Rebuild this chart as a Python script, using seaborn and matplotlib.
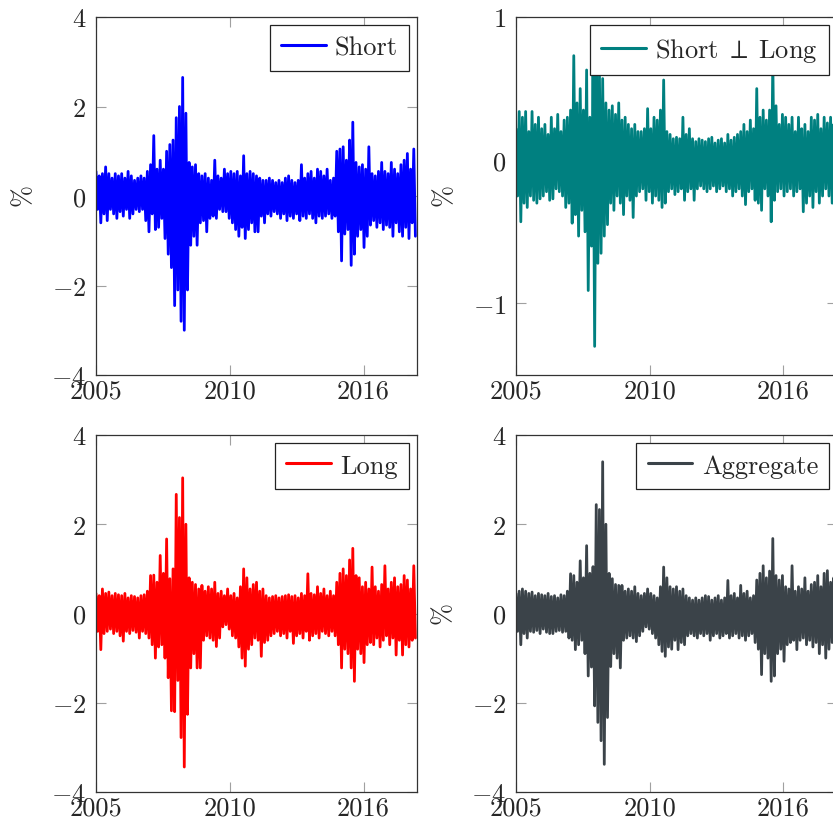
import numpy as np
import pandas as pd
import matplotlib
matplotlib.use("Agg")
import matplotlib.pyplot as plt
import seaborn as sns

# ---------------- data (alternating daily extremes) -------------
x_max = 12.0                      # axis span in years from 2005
tick_pos = [0, 5, 10]
tick_labels = ["2005", "2010", "2016"]

short_hi = [0.55,0.45,0.5,0.65,0.5,0.4,0.5,0.45,0.5,0.4,0.55,0.45,0.35,0.4,0.45,0.4,
            0.55,0.7,1.35,0.6,0.8,0.6,1.0,1.15,1.25,1.75,2.0,2.65,1.85,0.75,0.65,0.7,
            0.5,0.45,0.5,0.4,0.35,0.8,0.45,0.4,0.6,0.5,0.55,0.5,0.55,0.45,0.9,0.5,
            0.55,0.5,0.45,0.4,0.35,0.35,0.4,0.35,0.3,0.35,0.3,0.4,0.45,0.35,0.3,0.35,
            0.7,0.4,0.5,0.55,0.4,0.6,0.55,0.45,0.6,0.35,0.4,1.0,1.05,1.1,0.8,1.25,
            1.65,0.75,0.65,0.7,0.6,1.1,0.5,0.45,0.55,0.75,0.55,0.5,0.75,0.6,0.5,0.7,
            0.8,0.95,0.6,1.05]
short_lo = [-0.3,-0.6,-0.4,-0.55,-0.3,-0.4,-0.5,-0.35,-0.45,-0.3,-0.5,-0.4,-0.3,-0.35,-0.3,-0.55,
            -0.8,-0.4,-0.75,-0.7,-0.5,-0.95,-1.3,-1.6,-2.45,-2.1,-2.8,-3.0,-2.1,-1.1,-0.9,-1.1,
            -0.6,-0.55,-0.8,-0.5,-0.45,-0.5,-0.3,-0.35,-0.35,-0.5,-0.6,-0.75,-0.9,-0.7,-0.95,-0.75,
            -0.6,-0.8,-0.8,-0.45,-0.6,-0.4,-0.45,-0.35,-0.4,-0.5,-0.4,-0.55,-0.45,-0.5,-0.4,-0.55,
            -0.45,-0.5,-0.4,-0.5,-0.6,-0.45,-0.5,-0.45,-0.4,-0.5,-0.45,-0.8,-1.45,-0.85,-0.75,-1.55,
            -1.3,-0.9,-0.75,-1.15,-0.9,-0.65,-0.55,-0.7,-0.6,-0.75,-0.65,-0.7,-0.9,-0.6,-0.8,-0.9,
            -0.7,-0.95,-0.6,-0.9]

orth_hi = [0.22,0.34,0.3,0.34,0.2,0.34,0.25,0.3,0.22,0.25,0.18,0.3,0.22,0.32,0.2,0.28,
           0.3,0.35,0.73,0.4,0.5,0.35,0.63,0.3,0.62,0.64,0.6,0.57,0.4,0.35,0.38,0.32,
           0.4,0.28,0.3,0.25,0.22,0.25,0.2,0.2,0.22,0.36,0.22,0.3,0.28,0.35,0.56,0.2,
           0.18,0.15,0.16,0.15,0.3,0.18,0.22,0.15,0.13,0.15,0.14,0.13,0.15,0.16,0.12,0.14,
           0.15,0.12,0.18,0.14,0.16,0.18,0.2,0.25,0.2,0.28,0.22,0.5,0.3,0.35,0.28,0.35,
           0.7,0.38,0.25,0.32,0.3,0.25,0.3,0.2,0.3,0.22,0.25,0.2,0.3,0.28,0.32,0.22,
           0.3,0.26,0.3,0.25]
orth_lo = [-0.25,-0.43,-0.3,-0.33,-0.25,-0.28,-0.3,-0.27,-0.25,-0.22,-0.28,-0.27,-0.2,-0.22,-0.25,-0.33,
           -0.3,-0.44,-0.38,-0.53,-0.35,-0.5,-0.91,-0.6,-1.3,-0.72,-0.65,-0.53,-0.45,-0.3,-0.35,-0.25,
           -0.3,-0.38,-0.25,-0.28,-0.4,-0.25,-0.22,-0.2,-0.28,-0.22,-0.3,-0.25,-0.28,-0.33,-0.3,-0.22,
           -0.2,-0.24,-0.22,-0.2,-0.28,-0.22,-0.2,-0.28,-0.2,-0.18,-0.2,-0.22,-0.2,-0.18,-0.22,-0.2,
           -0.18,-0.22,-0.2,-0.25,-0.22,-0.2,-0.25,-0.31,-0.22,-0.2,-0.28,-0.3,-0.35,-0.2,-0.25,-0.43,
           -0.28,-0.22,-0.2,-0.25,-0.22,-0.2,-0.25,-0.22,-0.2,-0.36,-0.3,-0.25,-0.33,-0.22,-0.3,-0.25,
           -0.2,-0.25,-0.3,-0.25]

long_hi = [0.45,0.4,0.55,0.45,0.48,0.4,0.45,0.42,0.4,0.45,0.35,0.4,0.38,0.35,0.4,0.42,
           0.5,0.85,0.86,0.7,1.3,0.9,1.67,0.78,1.0,2.67,2.15,3.04,2.0,0.8,0.7,0.65,
           0.55,0.63,0.5,0.6,0.55,0.7,0.45,0.5,0.4,0.55,0.4,0.45,0.35,0.6,1.0,0.8,
           0.55,0.65,0.7,0.5,0.55,0.4,0.35,0.38,0.4,0.35,0.38,0.4,0.42,0.38,0.4,0.35,
           0.45,0.4,0.89,0.45,0.42,0.6,0.45,0.55,0.4,0.5,0.4,0.7,0.9,1.0,0.85,1.2,
           1.46,0.85,0.8,0.6,0.7,0.55,1.04,0.6,0.5,0.65,1.07,0.55,0.7,0.8,0.6,0.65,
           0.85,0.75,0.55,1.07]
long_lo = [-0.4,-0.81,-0.45,-0.4,-0.35,-0.45,-0.4,-0.5,-0.62,-0.4,-0.45,-0.38,-0.42,-0.55,-0.4,-0.45,
           -0.55,-0.7,-1.0,-0.75,-0.7,-1.0,-1.44,-2.18,-2.2,-1.5,-2.78,-3.44,-2.26,-1.22,-0.9,-1.22,
           -1.22,-0.6,-0.5,-0.55,-0.6,-0.74,-0.55,-0.3,-0.25,-0.35,-0.5,-0.55,-0.75,-1.0,-1.18,-0.8,
           -0.7,-0.55,-0.6,-0.96,-0.65,-0.6,-0.5,-0.45,-0.4,-0.5,-0.45,-0.55,-0.4,-0.67,-0.5,-0.45,
           -0.55,-0.4,-0.6,-0.5,-0.45,-0.55,-0.4,-0.45,-0.5,-0.4,-0.5,-0.7,-1.22,-0.8,-0.9,-1.22,
           -1.52,-0.8,-0.9,-1.1,-0.7,-0.65,-0.7,-0.55,-0.75,-0.6,-0.5,-0.7,-0.55,-0.93,-0.6,-0.93,
           -0.7,-0.75,-0.6,-0.55]

agg_hi = [0.45,0.5,0.55,0.5,0.45,0.48,0.4,0.45,0.42,0.4,0.45,0.38,0.4,0.35,0.42,0.4,
          0.5,0.89,0.85,0.7,1.18,0.8,1.52,0.9,1.05,2.44,2.33,3.4,2.0,0.9,0.78,0.65,
          0.63,0.63,0.5,0.55,0.5,0.6,0.45,0.4,0.45,0.55,0.45,0.4,0.35,0.6,1.04,0.8,
          0.6,0.55,0.6,0.5,0.55,0.4,0.35,0.3,0.35,0.3,0.35,0.4,0.38,0.3,0.35,0.4,
          0.3,0.35,0.74,0.4,0.45,0.35,0.63,0.45,0.5,0.35,0.4,0.75,0.9,1.07,0.8,0.95,
          1.68,0.85,0.75,0.85,0.6,0.55,1.07,0.5,0.6,0.55,0.8,0.5,0.65,0.7,0.85,0.6,
          0.9,0.96,0.7,0.8]
agg_lo = [-0.4,-0.7,-0.45,-0.55,-0.4,-0.42,-0.38,-0.45,-0.35,-0.42,-0.45,-0.45,-0.4,-0.38,-0.42,-0.4,
          -0.55,-0.6,-0.81,-0.7,-0.6,-0.9,-1.4,-1.2,-2.07,-2.44,-2.85,-3.38,-2.33,-1.19,-0.9,-1.0,
          -1.22,-0.6,-0.55,-0.5,-0.55,-0.63,-0.5,-0.4,-0.3,-0.35,-0.45,-0.55,-0.7,-0.85,-0.96,-0.75,
          -0.8,-0.6,-0.81,-0.65,-0.7,-0.5,-0.45,-0.5,-0.55,-0.45,-0.5,-0.45,-0.6,-0.5,-0.45,-0.55,
          -0.5,-0.45,-0.55,-0.5,-0.45,-0.55,-0.5,-0.6,-0.5,-0.45,-0.65,-0.8,-1.37,-0.9,-1.0,-1.52,
          -1.4,-0.9,-0.8,-1.07,-0.7,-0.65,-0.6,-0.81,-0.6,-0.55,-0.7,-0.6,-0.75,-0.65,-0.9,-0.7,
          -1.0,-0.8,-0.65,-0.7]

labels = ["Short", r"Short$\;\perp\;$Long", "Long", "Aggregate"]
colors = ["#0000ff", "#008080", "#ff0000", "#3b4349"]
ylims = [(-4, 4), (-1.5, 1), (-4, 4), (-4, 4)]
yticks = [[-4, -2, 0, 2, 4], [-1, 0, 1], [-4, -2, 0, 2, 4], [-4, -2, 0, 2, 4]]
show_ylabel = [True, True, False, True]
his = [short_hi, orth_hi, long_hi, agg_hi]
los = [short_lo, orth_lo, long_lo, agg_lo]

# ---------------- style -------------
sns.set_style("ticks")
plt.rcParams["font.family"] = ["cmr10", "DejaVu Serif"]
plt.rcParams["mathtext.fontset"] = "cm"
plt.rcParams["axes.formatter.use_mathtext"] = True
plt.rcParams["font.size"] = 19

W, H = 833, 828
fig = plt.figure(figsize=(W / 100, H / 100), dpi=100)
boxes = [(96, 18, 417, 376), (516, 18, 837, 376), (96, 436, 417, 793), (516, 436, 837, 793)]

for k in range(4):
    x0, y0, x1, y1 = boxes[k]
    ax = fig.add_axes([x0 / W, 1 - y1 / H, (x1 - x0) / W, (y1 - y0) / H])
    n = len(his[k])
    seg = x_max / n
    xs, ys = [], []
    for i in range(n):
        xs += [i * seg, i * seg + seg / 2]
        ys += [his[k][i], los[k][i]]
    df = pd.DataFrame({"t": xs, "v": ys})
    sns.lineplot(data=df, x="t", y="v", ax=ax, color=colors[k], lw=2.0,
                 label=labels[k], sort=False, estimator=None)
    ax.set_xlim(0, x_max)
    ax.set_ylim(*ylims[k])
    ax.set_xticks(tick_pos)
    ax.set_xticklabels(tick_labels)
    ax.set_yticks(yticks[k])
    ax.set_xlabel("")
    ax.set_ylabel(r"$\%$" if show_ylabel[k] else "", fontsize=19, labelpad=11)
    ax.tick_params(direction="in", length=7, width=0.8, color="#a0a0a0",
                   top=True, right=True, labelsize=19, pad=7)
    ax.tick_params(axis="x", pad=3)
    for s in ax.spines.values():
        s.set_color("#333333")
        s.set_linewidth(0.9)
    leg = ax.legend(loc="upper right", fontsize=19, frameon=True, fancybox=False,
                    framealpha=1, edgecolor="#222222", handlelength=1.7,
                    handletextpad=0.35, borderpad=0.42, borderaxespad=0.3)
    leg.get_frame().set_linewidth(0.9)
    for ln in leg.get_lines():
        ln.set_linewidth(2.2)

fig.savefig("out.png", dpi=100)
